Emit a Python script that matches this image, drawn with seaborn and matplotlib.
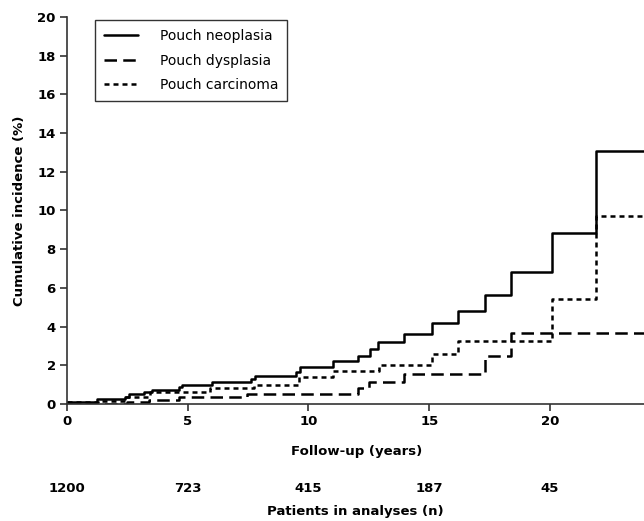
import numpy as np
import pandas as pd
import seaborn as sns
import matplotlib.pyplot as plt
import matplotlib.transforms as mtransforms

# step data (time in years, cumulative incidence in %)
neo_t = [0, 1.23, 2.41, 2.55, 3.17, 3.52, 4.63, 4.76, 6.01, 7.6, 7.77, 9.47, 9.65,
         11.0, 12.03, 12.56, 12.87, 13.95, 15.1, 16.19, 17.3, 18.38, 20.1, 21.9, 24.5]
neo_y = [0.1, 0.26, 0.38, 0.5, 0.6, 0.72, 0.86, 0.98, 1.12, 1.29, 1.46, 1.64, 1.93,
         2.2, 2.5, 2.83, 3.2, 3.62, 4.17, 4.82, 5.65, 6.82, 8.85, 13.05, 13.05]

dys_t = [0, 2.48, 3.38, 4.63, 7.46, 12.03, 12.52, 13.97, 17.3, 18.38, 24.5]
dys_y = [0, 0.1, 0.2, 0.35, 0.5, 0.81, 1.12, 1.57, 2.46, 3.65, 3.65]

car_t = [0, 1.3, 2.41, 3.45, 5.94, 7.74, 9.6, 11.0, 12.9, 15.1, 16.19, 20.1, 21.9, 24.5]
car_y = [0.1, 0.17, 0.35, 0.6, 0.81, 0.97, 1.41, 1.72, 2.0, 2.58, 3.27, 5.41, 9.72, 9.72]

at_risk_t = [0, 5, 10, 15, 20]
at_risk_n = [1200, 723, 415, 187, 45]

sns.set_style("ticks")
plt.rcParams['font.family'] = ['DejaVu Sans']
plt.rcParams['text.color'] = 'black'
plt.rcParams['axes.labelcolor'] = 'black'
plt.rcParams['xtick.labelcolor'] = 'black'
plt.rcParams['ytick.labelcolor'] = 'black'

fig = plt.figure(figsize=(6.44, 5.21), dpi=100)
ax = fig.add_axes([0.104, 0.2246, 0.9, 0.7428])

sns.lineplot(x=neo_t, y=neo_y, drawstyle="steps-post", color="black", lw=1.8,
             label="Pouch neoplasia", ax=ax)
sns.lineplot(x=dys_t, y=dys_y, drawstyle="steps-post", color="black", lw=1.8,
             ax=ax, label="Pouch dysplasia")
sns.lineplot(x=car_t, y=car_y, drawstyle="steps-post", color="black", lw=1.8,
             ax=ax, label="Pouch carcinoma")
ax.lines[1].set_dashes([5, 2.5])
ax.lines[2].set_dashes([2, 1.6])

ax.set_xlim(0, 24)
ax.set_ylim(0, 20)
ax.set_yticks(range(0, 21, 2))
ax.set_xticks([0, 5, 10, 15, 20])
sns.despine(ax=ax)
for s in ["left", "bottom"]:
    ax.spines[s].set_linewidth(1.2)
    ax.spines[s].set_color("#333333")
ax.tick_params(length=5, width=1.2, color="#333333", labelsize=9.5, pad=3)
for lab in ax.get_xticklabels() + ax.get_yticklabels():
    lab.set_fontweight("bold")

ax.set_xlabel("Follow-up (years)", fontsize=9.5, fontweight="bold", labelpad=12)
ax.set_ylabel("Cumulative incidence (%)", fontsize=9.5, fontweight="bold", labelpad=8)

# numbers at risk under the axis
trans = mtransforms.blended_transform_factory(ax.transData, fig.transFigure)
for t, n in zip(at_risk_t, at_risk_n):
    ax.text(t, 1 - 489 / 521, str(n), transform=trans, ha="center", va="center",
            fontsize=9.5, fontweight="bold")
fig.text(355.5 / 644, 1 - 512 / 521, "Patients in analyses (n)", ha="center",
         va="center", fontsize=9.5, fontweight="bold")

leg = ax.legend(loc="upper left", bbox_to_anchor=(0.049, 0.992), fontsize=10,
                frameon=True, fancybox=False, handlelength=2.4, handletextpad=1.6,
                borderpad=0.65, labelspacing=0.75, borderaxespad=0)
leg.get_frame().set_edgecolor("black")
leg.get_frame().set_linewidth(1.0)
for txt in leg.get_texts():
    txt.set_color("black")

fig.savefig("out.png", dpi=100)
